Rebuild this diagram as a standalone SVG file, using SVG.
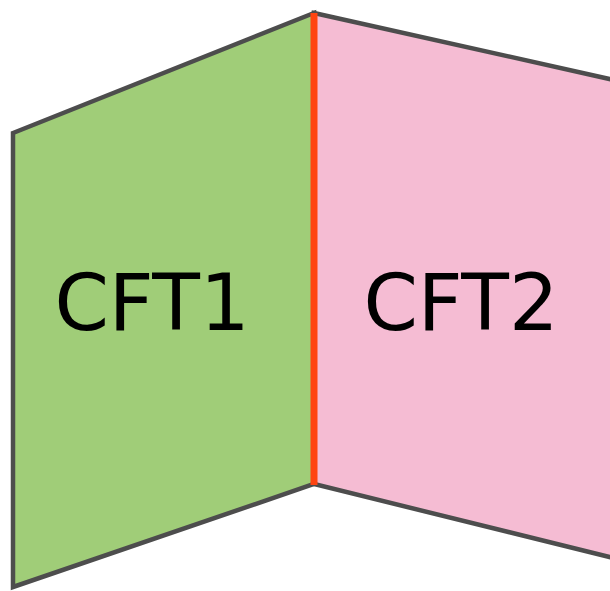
<svg xmlns="http://www.w3.org/2000/svg" width="610" height="591" viewBox="0 0 610 591">
  <style>
    .panel { stroke: #4d4d4d; stroke-width: 4.5; stroke-linejoin: miter; }
    .label { font-family: "DejaVu Sans", sans-serif; font-size: 78px; fill: #000; text-anchor: middle; }
  </style>
  <rect width="610" height="591" fill="#ffffff"/>
  <g id="cft2">
    <polygon class="panel" fill="#f5bcd3" points="314,13 650,88 650,567 314,484"/>
    <text class="label" x="461" y="330">CFT2</text>
  </g>
  <g id="cft1">
    <polygon class="panel" fill="#a0cd78" points="13,133 314,13 314,484 13,587"/>
    <text class="label" x="152" y="330">CFT1</text>
  </g>
  <g id="connectors">
    <line x1="314" y1="13" x2="314" y2="485" stroke="#ff4411" stroke-width="7"/>
  </g>
</svg>
